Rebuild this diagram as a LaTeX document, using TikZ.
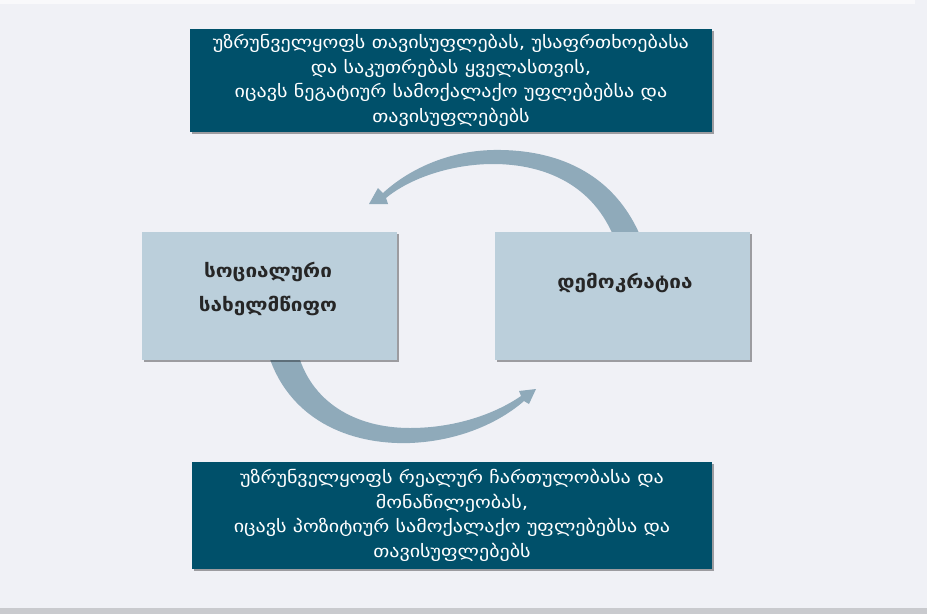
\documentclass[tikz,border=0pt]{standalone}
\usepackage{fontspec}
\usetikzlibrary{shadows}
\newfontfamily\geo{DejaVu Sans}[FakeStretch=1.18]
\newfontfamily\geob{DejaVu Sans}[FakeStretch=1.12]
\definecolor{bgc}{HTML}{F0F1F6}
\definecolor{darkc}{HTML}{00506A}
\definecolor{lightc}{HTML}{BBCFDB}
\definecolor{arcc}{HTML}{8FAABA}
\definecolor{stripc}{HTML}{C9CACE}
\tikzset{
  darkbox/.style={rectangle, fill=darkc, text=white, align=center, inner sep=0pt,
    font=\geo\fontsize{17}{24.5}\selectfont,
    drop shadow={shadow xshift=2pt, shadow yshift=-2pt, fill=black, opacity=.35}},
  lightbox/.style={rectangle, fill=lightc, inner sep=0pt,
    minimum width=255pt, minimum height=128pt,
    drop shadow={shadow xshift=2pt, shadow yshift=-2pt, fill=black, opacity=.35}},
  boxtext/.style={font=\geob\bfseries\fontsize{18.5}{34}\selectfont, text=black!85, align=center},
  arcshape/.style={fill=arcc, draw=none}
}
\begin{document}
\begin{tikzpicture}[x=1pt,y=-1pt]
\useasboundingbox (0,0) rectangle (927,614);
\fill[bgc] (0,0) rectangle (927,614);
\fill[white!60!bgc] (0,0) rectangle (915,4);
\fill[stripc] (0,608) rectangle (927,614);

% upper curved arrow (from democracy to social state)
\fill[arcshape] (642,240) .. controls (612,165) and (545,149) .. (493,150)
  .. controls (447,151) and (408,170) .. (383,193)
  -- (378,188) -- (369,204) -- (388,204) -- (386,198)
  .. controls (410,178) and (452,164) .. (493,164)
  .. controls (545,164) and (594,185) .. (615,240) -- cycle;

% lower curved arrow (from social state to democracy)
\fill[arcshape] (267,350) .. controls (287,420) and (350,445) .. (410,443)
  .. controls (460,441) and (500,422) .. (524,401)
  -- (529,404) -- (536,389) -- (519,391) -- (521,396)
  .. controls (495,414) and (455,428) .. (410,428)
  .. controls (355,428) and (310,402) .. (297,350) -- cycle;

\node[darkbox, minimum width=522pt, minimum height=103pt] (top) at (451,80.5)
  {უზრუნველყოფს თავისუფლებას, უსაფრთხოებასა\\
   და საკუთრებას ყველასთვის,\\
   იცავს ნეგატიურ სამოქალაქო უფლებებსა და\\
   თავისუფლებებს};

\node[darkbox, minimum width=520pt, minimum height=107pt] (bottom) at (452,515.5)
  {უზრუნველყოფს რეალურ ჩართულობასა და\\
   მონაწილეობას,\\
   იცავს პოზიტიურ სამოქალაქო უფლებებსა და\\
   თავისუფლებებს};

\node[lightbox] (social) at (269.5,296) {};
\node[boxtext] (socialtext) at (268,289) {სოციალური\\სახელმწიფო};
\node[lightbox] (dem) at (622.5,296) {};
\node[boxtext] (demtext) at (625,283) {დემოკრატია};
\end{tikzpicture}
\end{document}
